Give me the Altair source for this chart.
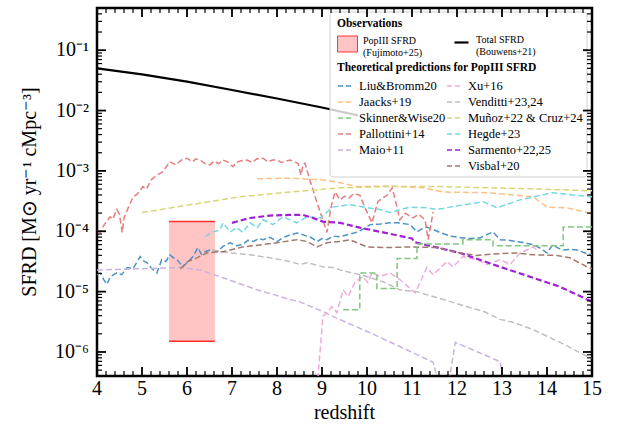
import altair as alt
import pandas as pd

FONT = "Liberation Serif"

# ---------------- data: redshift z and log10(SFRD) ----------------
liu_z = [4.00, 4.07, 4.15, 4.22, 4.30, 4.44, 4.55, 4.67, 4.80, 4.96, 5.05, 5.11, 5.22, 5.33, 5.44, 5.53,
         5.62, 5.70, 5.78, 5.91, 6.00, 6.07, 6.15, 6.24, 6.32, 6.40, 6.55, 6.67, 6.80, 6.96, 7.10, 7.24,
         7.35, 7.47, 7.60, 7.69, 7.85, 8.00, 8.15, 8.29, 8.45, 8.58, 8.75, 8.89, 9.00, 9.11, 9.25, 9.40,
         9.60, 9.80, 9.95, 10.07, 10.30, 10.50, 10.67, 10.80, 10.96, 11.11, 11.22, 11.33, 11.50, 11.62,
         11.85, 12.13, 12.30, 12.51, 12.65, 12.80, 12.96, 13.15, 13.33, 13.50, 13.69, 13.85, 14.00, 14.13,
         14.25, 14.36, 14.50, 14.67, 14.85, 15.00]
liu_l = [-4.72, -4.69, -4.80, -4.88, -4.75, -4.69, -4.72, -4.60, -4.62, -4.42, -4.50, -4.52, -4.62, -4.69, -4.47, -4.50,
         -4.39, -4.44, -4.47, -4.59, -4.52, -4.47, -4.40, -4.27, -4.38, -4.34, -4.30, -4.34, -4.25, -4.19, -4.24, -4.22,
         -4.15, -4.17, -4.12, -4.14, -4.10, -4.17, -4.10, -4.06, -4.03, -4.06, -4.10, -4.17, -4.12, -4.14, -4.08, -4.09,
         -4.05, -4.01, -3.95, -3.89, -3.88, -3.86, -3.86, -3.87, -3.89, -4.01, -3.96, -3.93, -3.98, -4.02,
         -4.08, -4.11, -4.12, -4.11, -4.06, -4.01, -4.14, -4.15, -4.17, -4.19, -4.22, -4.28, -4.36, -4.22,
         -4.28, -4.31, -4.30, -4.31, -4.36, -4.39]

jaacks_z = [7.56, 8.29, 9.02, 9.30, 9.78, 10.51, 11.24, 11.69, 12.67, 13.69, 14.00, 14.44, 14.89, 15.00]
jaacks_l = [-3.13, -3.12, -3.15, -3.18, -3.26, -3.25, -3.28, -3.35, -3.36, -3.43, -3.60, -3.61, -3.69, -3.70]

skinner_z = [9.47, 9.84, 10.22, 10.67, 11.11, 12.13, 12.80, 14.36, 15.00]
skinner_l = [-5.30, -4.69, -4.95, -4.45, -4.21, -4.14, -4.24, -3.93, -3.93]

pall_z = [4.00, 4.07, 4.13, 4.20, 4.29, 4.35, 4.44, 4.50, 4.56, 4.60, 4.70, 4.80, 4.90, 5.02, 5.10, 5.20,
          5.33, 5.45, 5.62, 5.75, 5.88, 6.00, 6.12, 6.20, 6.29, 6.40, 6.51, 6.60, 6.70, 6.80, 6.90, 7.02,
          7.10, 7.20, 7.33, 7.45, 7.55, 7.69, 7.80, 7.90, 8.00, 8.10, 8.20, 8.29, 8.40, 8.47, 8.53, 8.58,
          8.62, 8.73, 8.90, 9.11, 9.20, 9.29, 9.40, 9.50, 9.60, 9.70, 9.84, 9.95, 10.11, 10.24, 10.35,
          10.45, 10.56, 10.65, 10.73, 10.85, 11.02, 11.15, 11.29, 11.36, 11.47]
pall_l = [-4.00, -4.02, -3.93, -3.85, -3.76, -3.80, -3.64, -3.72, -4.02, -3.78, -3.60, -3.43, -3.38, -3.26, -3.30, -3.15,
          -3.07, -3.02, -2.85, -2.90, -2.82, -2.79, -2.85, -2.80, -2.82, -2.88, -2.90, -2.84, -2.88, -2.82, -2.85, -2.93,
          -2.86, -2.83, -2.82, -2.86, -2.80, -2.79, -2.85, -2.82, -2.82, -2.86, -2.84, -2.82, -2.85, -2.88, -3.07, -2.90,
          -2.87, -3.15, -3.55, -4.02, -3.60, -3.35, -3.48, -3.42, -3.45, -3.38, -3.40, -3.60, -3.86, -3.51, -3.45,
          -3.40, -3.28, -3.55, -3.81, -3.70, -3.78, -3.72, -3.81, -4.14, -3.68]

maio_z = [4.00, 5.00, 5.84, 6.29, 6.80, 7.56, 8.29, 8.51, 9.02, 9.24, 10.00, 10.73, 11.47, 11.62, 11.80, 11.96,
          12.96, 13.05]
maio_l = [-4.64, -4.62, -4.60, -4.64, -4.77, -4.97, -5.13, -5.17, -5.33, -5.41, -5.66, -5.91, -6.17, -6.60, -6.60, -5.84,
          -6.16, -6.60]

xu_z = [8.89, 9.02, 9.11, 9.22, 9.33, 9.47, 9.58, 9.73, 9.91, 10.02, 10.11, 10.29, 10.51, 10.73, 11.07, 11.18,
        11.33, 11.47, 11.78, 11.91, 12.13, 12.44, 12.67, 12.96, 13.18, 13.40, 13.69, 13.78]
xu_l = [-6.60, -5.41, -5.35, -5.25, -5.35, -4.97, -5.08, -4.85, -4.75, -4.85, -4.69, -4.75, -4.69, -4.80, -5.02, -4.85,
        -4.60, -4.72, -4.50, -4.59, -4.42, -4.47, -4.55, -4.47, -4.55, -4.36, -4.26, -4.31]

vend_z = [6.58, 6.96, 7.40, 7.84, 8.29, 8.51, 8.67, 9.02, 9.24, 9.40, 10.00, 10.40, 10.73, 11.10, 11.47, 12.22,
          12.60, 12.96, 13.30, 13.69, 14.29, 14.89, 15.00]
vend_l = [-4.31, -4.36, -4.39, -4.44, -4.50, -4.55, -4.52, -4.59, -4.60, -4.64, -4.75, -4.85, -4.97, -5.00, -5.08, -5.25,
          -5.33, -5.46, -5.52, -5.63, -5.84, -6.07, -6.10]

munoz_z = [5.00, 6.07, 7.18, 8.29, 9.40, 10.51, 11.62, 12.73, 13.84, 15.00]
munoz_l = [-3.69, -3.56, -3.43, -3.35, -3.28, -3.26, -3.26, -3.28, -3.30, -3.33]

hegde_z = [6.40, 6.58, 6.73, 6.80, 6.96, 7.11, 7.24, 7.40, 7.56, 7.69, 7.91, 8.13, 8.44, 8.67, 8.96, 9.24,
           9.62, 10.00, 10.29, 10.51, 10.96, 11.33, 11.56, 11.84, 12.58, 12.89, 13.40, 14.13, 14.58, 15.00]
hegde_l = [-4.09, -4.01, -3.98, -3.86, -4.01, -3.94, -4.02, -3.86, -3.94, -3.81, -3.89, -3.76, -3.86, -3.76, -3.78, -3.60,
           -3.56, -3.61, -3.64, -3.69, -3.60, -3.61, -3.64, -3.60, -3.51, -3.61, -3.48, -3.36, -3.40, -3.43]

sarm_z = [7.00, 7.40, 7.84, 8.29, 8.58, 8.80, 9.02, 9.40, 9.84, 10.50, 11.00, 11.05, 12.07, 12.96, 13.69, 14.29,
          14.89, 15.00]
sarm_l = [-3.86, -3.78, -3.74, -3.73, -3.73, -3.78, -3.84, -3.86, -3.94, -4.04, -4.12, -4.18, -4.36, -4.59, -4.77, -4.92,
          -5.13, -5.16]

visbal_z = [5.85, 6.02, 6.22, 6.44, 6.67, 6.80, 7.24, 7.69, 8.00, 8.44, 8.67, 8.89, 9.11, 9.40, 9.62, 10.00,
            10.44, 10.96, 11.56, 12.07, 12.44, 12.96, 13.33, 13.69, 14.22, 14.51, 14.89, 15.00]
visbal_l = [-4.62, -4.50, -4.44, -4.36, -4.34, -4.34, -4.26, -4.22, -4.19, -4.14, -4.17, -4.26, -4.19, -4.17, -4.14, -4.26,
            -4.27, -4.26, -4.27, -4.36, -4.40, -4.37, -4.36, -4.39, -4.40, -4.44, -4.59, -4.62]

total_z = [4.0, 5.0, 6.0, 7.0, 8.0, 9.0, 9.8]
total_l = [-1.30, -1.40, -1.52, -1.66, -1.80, -1.95, -2.08]

fuji_zlo, fuji_zhi = 5.60, 6.62
fuji_lo, fuji_hi = 1.5e-6, 1.45e-4

# legend order (column-major, 2 columns of 6; " " is an empty slot)
LEG_ORDER = ["Liu&Bromm20", "Jaacks+19", "Skinner&Wise20", "Pallottini+14", "Maio+11", " ",
             "Xu+16", "Venditti+23,24", "Muñoz+22 & Cruz+24", "Hegde+23", "Sarmento+22,25", "Visbal+20"]
COLORS = ["#4c92c3", "#ffbf86", "#80c680", "#e67d7d", "#cab3de", "rgba(0,0,0,0)",
          "#eeadda", "#bfbfbf", "#d7d77a", "#74d8e2", "#a020d8", "#a3786f"]

# axis ticks and tick labels
X_MAJOR = list(range(4, 16))
X_LABELS = [str(v) for v in X_MAJOR]
X_MINOR = [round(4 + 0.2 * i, 1) for i in range(56) if i % 5]
Y_MAJOR = [1e-6, 1e-5, 1e-4, 1e-3, 1e-2, 1e-1]
Y_LABELS = ["10⁻⁶", "10⁻⁵", "10⁻⁴", "10⁻³", "10⁻²", "10⁻¹"]
Y_MINOR = [m * 10.0 ** k for k in range(-7, 0) for m in range(2, 10) if 4e-7 <= m * 10.0 ** k <= 0.5]
X_TITLE = "redshift"
Y_TITLE = "SFRD [M⊙ yr⁻¹ cMpc⁻³]"

W, H = 495, 368

# ---------------- tables ----------------
series = [("Liu&Bromm20", liu_z, liu_l), ("Jaacks+19", jaacks_z, jaacks_l),
          ("Pallottini+14", pall_z, pall_l), ("Maio+11", maio_z, maio_l),
          ("Xu+16", xu_z, xu_l), ("Venditti+23,24", vend_z, vend_l),
          ("Muñoz+22 & Cruz+24", munoz_z, munoz_l), ("Hegde+23", hegde_z, hegde_l),
          ("Sarmento+22,25", sarm_z, sarm_l), ("Visbal+20", visbal_z, visbal_l)]
rows = []
for name, zs, ls in series:
    for z, l in zip(zs, ls):
        rows.append({"model": name, "z": z, "v": 10 ** l})
theory = pd.DataFrame(rows)
skinner = pd.DataFrame({"model": "Skinner&Wise20", "z": skinner_z, "v": [10 ** l for l in skinner_l]})
total = pd.DataFrame({"z": total_z, "v": [10 ** l for l in total_l], "obs": "Total SFRD|(Bouwens+21)"})
fuji = pd.DataFrame({"z1": [fuji_zlo], "z2": [fuji_zhi], "lo": [fuji_lo], "hi": [fuji_hi],
                     "obs": ["PopIII SFRD|(Fujimoto+25)"]})
fuji_edges = pd.DataFrame({"z1": [fuji_zlo] * 2, "z2": [fuji_zhi] * 2, "v": [fuji_lo, fuji_hi]})
dummy = pd.DataFrame({"z": [10.0], "v": [1e-3]})

xs = alt.Scale(domain=[4, 15], nice=False, zero=False)
ys = alt.Scale(type="log", domain=[4e-7, 0.5], nice=False)

theory_legend = alt.Legend(
    title="Theoretical predictions for PopIII SFRD", orient="none", legendX=240, legendY=54,
    columns=2, symbolType="stroke", symbolDash=[5, 3], symbolStrokeWidth=1.6,
    symbolSize=225, labelFont=FONT, labelFontSize=12.5, labelColor="black", labelOffset=5,
    labelLimit=300, titleFont=FONT, titleFontSize=11.5, titleFontWeight="bold", titleColor="black",
    titleLimit=400, titlePadding=4, columnPadding=-4, rowPadding=1, padding=0)
stroke_enc = alt.Stroke("model:N", scale=alt.Scale(domain=LEG_ORDER, range=COLORS), legend=theory_legend)

lines = alt.Chart(theory).mark_line(strokeDash=[6, 3], clip=True).encode(
    x=alt.X("z:Q", scale=xs, axis=None),
    y=alt.Y("v:Q", scale=ys, axis=None),
    stroke=stroke_enc,
    strokeWidth=alt.condition("datum.model == 'Sarmento+22,25'", alt.value(2.2), alt.value(1.5)),
    detail="model:N",
)
steps = alt.Chart(skinner).mark_line(strokeDash=[6, 3], interpolate="step-after", clip=True,
                                     strokeWidth=1.5).encode(
    x=alt.X("z:Q", scale=xs, axis=None), y=alt.Y("v:Q", scale=ys, axis=None), stroke=stroke_enc)

total_line = alt.Chart(total).mark_line(strokeWidth=2.2, clip=True).encode(
    x=alt.X("z:Q", scale=xs, axis=None), y=alt.Y("v:Q", scale=ys, axis=None),
    color=alt.Color("obs:N", scale=alt.Scale(domain=["Total SFRD|(Bouwens+21)"], range=["black"]),
                    legend=alt.Legend(title=None, orient="none", legendX=356, legendY=26,
                                      symbolType="stroke", symbolSize=196, symbolStrokeWidth=2.2,
                                      labelExpr="split(datum.label, '|')", labelFont=FONT,
                                      labelFontSize=10, labelColor="black", labelOffset=6,
                                      labelBaseline="alphabetic", padding=0)))

rect = alt.Chart(fuji).mark_rect(clip=True).encode(
    x=alt.X("z1:Q", scale=xs, axis=None), x2="z2:Q",
    y=alt.Y("lo:Q", scale=ys, axis=None), y2="hi:Q",
    fill=alt.Fill("obs:N", scale=alt.Scale(domain=["PopIII SFRD|(Fujimoto+25)"], range=["#ffc4c4"]),
                  legend=alt.Legend(title="Observations", orient="none", legendX=240, legendY=10,
                                    symbolType="M-1,-0.8H1V0.8H-1Z", symbolSize=400,
                                    symbolStrokeColor="#ff3333", symbolStrokeWidth=1,
                                    labelExpr="split(datum.label, '|')", labelFont=FONT,
                                    labelFontSize=10, labelColor="black", labelOffset=5,
                                    labelBaseline="alphabetic",
                                    titleFont=FONT, titleFontSize=11.5, titleFontWeight="bold",
                                    titleColor="black", titlePadding=4, padding=0)))
edges = alt.Chart(fuji_edges).mark_rule(color="#ff3030", strokeWidth=1.5).encode(
    x=alt.X("z1:Q", scale=xs, axis=None), x2="z2:Q", y=alt.Y("v:Q", scale=ys, axis=None))

legend_box = alt.Chart(dummy).mark_rect(fill="white", fillOpacity=0.8, stroke="#d0d0d0",
                                        strokeWidth=1, cornerRadius=3).encode(
    x=alt.value(233), x2=alt.value(490), y=alt.value(4), y2=alt.value(169))


# ---------------- inward ticks on all four sides (positions from the scales) ----------------
def x_ticks(values, length, width, side):
    d = pd.DataFrame({"z": values})
    y0, y1 = (H, H - length) if side == "bottom" else (0, length)
    return alt.Chart(d).mark_rule(color="black", strokeWidth=width).encode(
        x=alt.X("z:Q", scale=xs, axis=None), y=alt.value(y0), y2=alt.value(y1))


def y_ticks(values, length, width, side):
    d = pd.DataFrame({"v": values})
    x0, x1 = (0, length) if side == "left" else (W, W - length)
    return alt.Chart(d).mark_rule(color="black", strokeWidth=width).encode(
        y=alt.Y("v:Q", scale=ys, axis=None), x=alt.value(x0), x2=alt.value(x1))


ticks = [
    x_ticks(X_MAJOR, 9, 1.8, "bottom"), x_ticks(X_MINOR, 5, 1.2, "bottom"),
    x_ticks(X_MAJOR, 9, 1.8, "top"), x_ticks(X_MINOR, 5, 1.2, "top"),
    y_ticks(Y_MAJOR, 9, 1.8, "left"), y_ticks(Y_MINOR, 5, 1.2, "left"),
    y_ticks(Y_MAJOR, 9, 1.8, "right"), y_ticks(Y_MINOR, 5, 1.2, "right"),
]

# ---------------- tick labels and axis titles (text placed through the scales) ----------------
x_lab = alt.Chart(pd.DataFrame({"z": X_MAJOR, "t": X_LABELS})).mark_text(
    font=FONT, fontSize=20, color="black", baseline="top", align="center").encode(
    x=alt.X("z:Q", scale=xs, axis=None), y=alt.value(H + 3), text="t:N")
y_lab = alt.Chart(pd.DataFrame({"v": Y_MAJOR, "t": Y_LABELS})).mark_text(
    font=FONT, fontSize=20, color="black", baseline="middle", align="right").encode(
    y=alt.Y("v:Q", scale=ys, axis=None), x=alt.value(-8), text="t:N")
x_tit = alt.Chart(pd.DataFrame({"t": [X_TITLE]})).mark_text(
    font=FONT, fontSize=20, color="black", baseline="top", align="center").encode(
    x=alt.value(W / 2), y=alt.value(H + 27), text="t:N")
y_tit = alt.Chart(pd.DataFrame({"t": [Y_TITLE]})).mark_text(
    font=FONT, fontSize=20, color="black", baseline="middle", align="center", angle=270).encode(
    x=alt.value(-67), y=alt.value(H / 2), text="t:N")

chart = alt.layer(rect, edges, lines, steps, total_line, legend_box, *ticks,
                  x_lab, y_lab, x_tit, y_tit).properties(
    width=W, height=H, padding={"left": 97, "top": 8, "right": 37, "bottom": 48},
    autosize=alt.AutoSizeParams(type="none"), background="white").configure_view(
    stroke="black", strokeWidth=2.5, clip=False)

chart.save("out.html", embed_options={"renderer": "svg", "actions": False})
